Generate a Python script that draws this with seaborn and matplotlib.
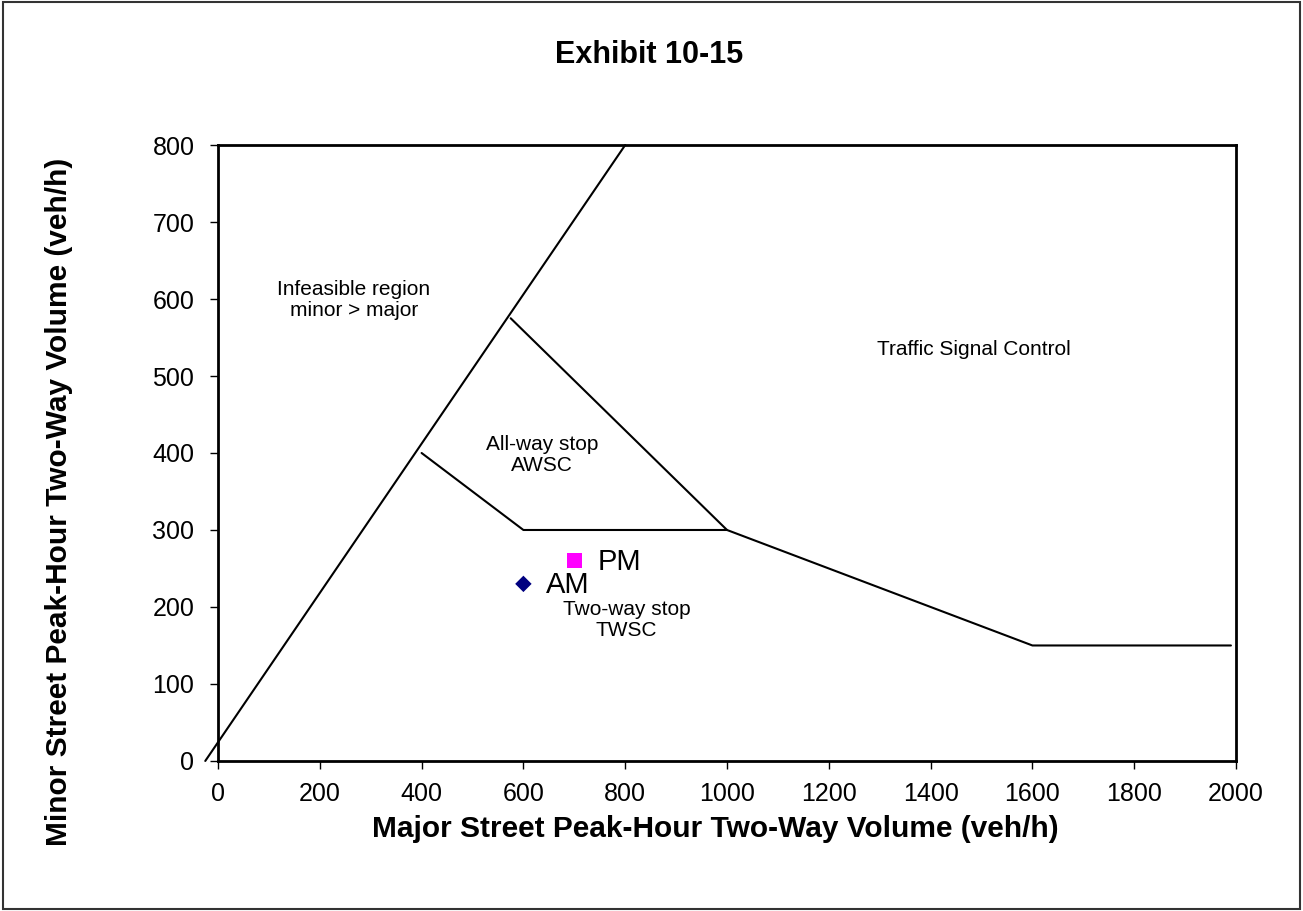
import matplotlib
matplotlib.use("Agg")
import matplotlib.pyplot as plt
import seaborn as sns
import pandas as pd
from matplotlib.patches import Rectangle

# Control-type boundaries (major volume, minor volume), veh/h
feasibility_x = [-25, 800]
feasibility_y = [0, 800]
twsc_x = [400, 600, 1000, 1600, 1990]
twsc_y = [400, 300, 300, 150, 150]
awsc_x = [575, 1000]
awsc_y = [575, 300]

# Observed peak-hour volumes
periods = ["AM", "PM"]
major_vol = [600, 700]
minor_vol = [230, 260]

x_ticks = [0, 200, 400, 600, 800, 1000, 1200, 1400, 1600, 1800, 2000]
y_ticks = [0, 100, 200, 300, 400, 500, 600, 700, 800]

sns.set_theme(style="white")
plt.rcParams["font.family"] = ["Liberation Sans", "DejaVu Sans"]
plt.rcParams.update({"text.color": "black", "axes.labelcolor": "black",
                     "xtick.color": "black", "ytick.color": "black"})

fig = plt.figure(figsize=(13.03, 9.11), dpi=100)
ax = fig.add_axes([0.1673, 0.1647, 0.7813, 0.6761])

bounds = pd.DataFrame({
    "major": feasibility_x + twsc_x + awsc_x,
    "minor": feasibility_y + twsc_y + awsc_y,
    "seg": ["feasible"] * len(feasibility_x) + ["twsc"] * len(twsc_x) + ["awsc"] * len(awsc_x),
})
sns.lineplot(data=bounds, x="major", y="minor", units="seg", estimator=None,
             sort=False, color="black", linewidth=1.5, ax=ax, clip_on=False)

obs = pd.DataFrame({"major": major_vol, "minor": minor_vol, "period": periods})
sns.scatterplot(data=obs, x="major", y="minor", hue="period", style="period",
                size="period", sizes={"AM": 70, "PM": 110},
                markers={"AM": "D", "PM": "s"},
                palette={"AM": "#000080", "PM": "#FF00FF"},
                edgecolor=None, linewidth=0, legend=False, ax=ax, zorder=5)

for p, xv, yv in zip(periods, major_vol, minor_vol):
    ax.annotate(p, (xv, yv), xytext=(16.5, -1), textcoords="offset points",
                fontsize=21, va="center", ha="left")

region_fs = 15
ax.text(267, 599, "Infeasible region\nminor > major", ha="center", va="center",
        fontsize=region_fs, linespacing=1.15)
ax.text(1485, 535, "Traffic Signal Control", ha="center", va="center", fontsize=region_fs)
ax.text(637, 397, "All-way stop\nAWSC", ha="center", va="center", fontsize=region_fs,
        linespacing=1.15)
ax.text(803, 183, "Two-way stop\nTWSC", ha="center", va="center", fontsize=region_fs,
        linespacing=1.15)

ax.set_xlim(0, 2000)
ax.set_ylim(0, 800)
ax.set_xticks(x_ticks)
ax.set_yticks(y_ticks)
ax.tick_params(axis="both", which="major", direction="out", length=6, width=1,
               labelsize=18, left=True, bottom=True)
ax.tick_params(axis="x", pad=9)
ax.tick_params(axis="y", pad=11)
for s in ax.spines.values():
    s.set_visible(True)
    s.set_color("black")
    s.set_linewidth(2)

ax.set_xlabel("Major Street Peak-Hour Two-Way Volume (veh/h)", fontsize=21.5,
              fontweight="bold")
ax.set_ylabel("Minor Street Peak-Hour Two-Way Volume (veh/h)", fontsize=21.5,
              fontweight="bold")
ax.xaxis.set_label_coords(0.489, -0.088)
ax.yaxis.set_label_coords(-0.142, 0.42)

fig.text(0.4985, 1 - 63 / 911, "Exhibit 10-15", ha="center", va="baseline",
         fontsize=22, fontweight="bold")

fig.patches.append(Rectangle((0.002, 0.002), 0.996, 0.996, transform=fig.transFigure,
                             fill=False, edgecolor="#333333", linewidth=1.5))

fig.savefig("out.png", dpi=100)
